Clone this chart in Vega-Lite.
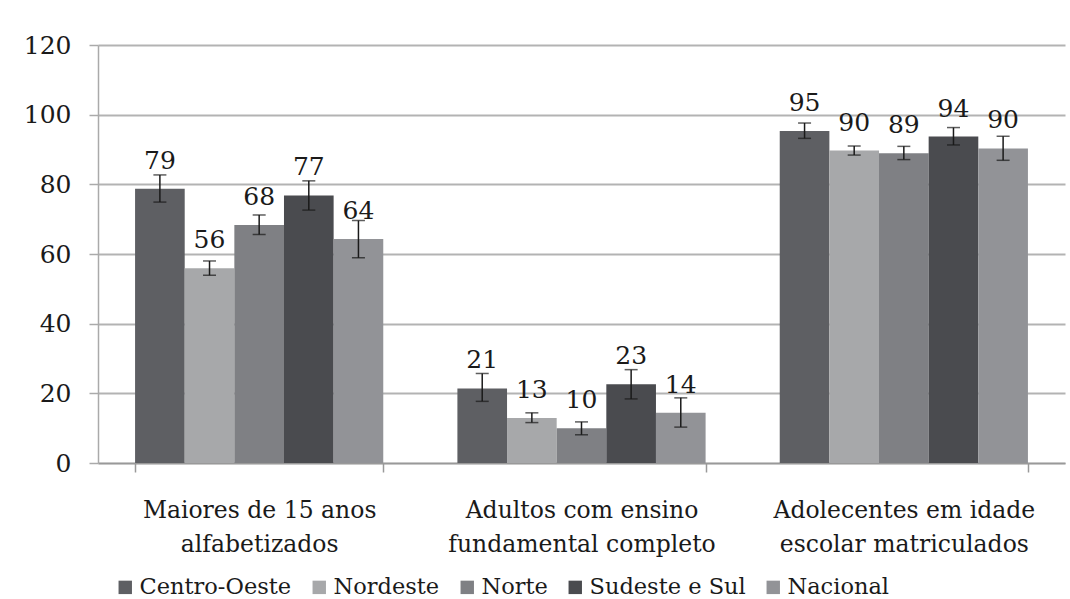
{
  "$schema": "https://vega.github.io/schema/vega-lite/v6.json",
  "width": 967,
  "height": 418,
  "autosize": {"type": "none"},
  "padding": {"left": 98, "top": 45, "right": 5, "bottom": 136},
  "background": "white",
  "config": {
    "view": {"stroke": null},
    "font": "DejaVu Serif",
    "axis": {"labelFont": "DejaVu Serif", "labelColor": "#1a1a1a"},
    "legend": {"labelFont": "DejaVu Serif"}
  },
  "data": {
    "values": [
      {"categoria": "Maiores de 15 anos alfabetizados", "regiao": "Centro-Oeste", "valor": 78.7, "inf": 74.9, "sup": 82.7},
      {"categoria": "Maiores de 15 anos alfabetizados", "regiao": "Nordeste", "valor": 55.9, "inf": 53.9, "sup": 58.0},
      {"categoria": "Maiores de 15 anos alfabetizados", "regiao": "Norte", "valor": 68.3, "inf": 65.6, "sup": 71.2},
      {"categoria": "Maiores de 15 anos alfabetizados", "regiao": "Sudeste e Sul", "valor": 76.8, "inf": 72.6, "sup": 81.0},
      {"categoria": "Maiores de 15 anos alfabetizados", "regiao": "Nacional", "valor": 64.3, "inf": 58.9, "sup": 69.6},
      {"categoria": "Adultos com ensino fundamental completo", "regiao": "Centro-Oeste", "valor": 21.4, "inf": 17.7, "sup": 25.7},
      {"categoria": "Adultos com ensino fundamental completo", "regiao": "Nordeste", "valor": 12.9, "inf": 11.6, "sup": 14.4},
      {"categoria": "Adultos com ensino fundamental completo", "regiao": "Norte", "valor": 10.0, "inf": 8.1, "sup": 11.8},
      {"categoria": "Adultos com ensino fundamental completo", "regiao": "Sudeste e Sul", "valor": 22.6, "inf": 18.4, "sup": 26.8},
      {"categoria": "Adultos com ensino fundamental completo", "regiao": "Nacional", "valor": 14.4, "inf": 10.3, "sup": 18.7},
      {"categoria": "Adolecentes em idade escolar matriculados", "regiao": "Centro-Oeste", "valor": 95.3, "inf": 93.2, "sup": 97.6},
      {"categoria": "Adolecentes em idade escolar matriculados", "regiao": "Nordeste", "valor": 89.7, "inf": 88.4, "sup": 91.0},
      {"categoria": "Adolecentes em idade escolar matriculados", "regiao": "Norte", "valor": 88.9, "inf": 87.1, "sup": 90.9},
      {"categoria": "Adolecentes em idade escolar matriculados", "regiao": "Sudeste e Sul", "valor": 93.7, "inf": 91.3, "sup": 96.3},
      {"categoria": "Adolecentes em idade escolar matriculados", "regiao": "Nacional", "valor": 90.3, "inf": 86.9, "sup": 93.8}
    ]
  },
  "encoding": {
    "x": {
      "field": "categoria",
      "type": "nominal",
      "sort": null,
      "scale": {"paddingInner": 0.23, "paddingOuter": 0.115},
      "axis": {
        "title": null,
        "labelAngle": 0,
        "labelFontSize": 23.5,
        "labelPadding": 26,
        "labelLineHeight": 34,
        "labelBaseline": "top",
        "labelLimit": 400,
        "tickBand": "extent",
        "tickSize": 9,
        "tickColor": "#999999",
        "tickWidth": 1.5,
        "domainColor": "#999999",
        "domainWidth": 1.5,
        "labelExpr": "datum.value == 'Maiores de 15 anos alfabetizados' ? ['Maiores de 15 anos', 'alfabetizados'] : datum.value == 'Adultos com ensino fundamental completo' ? ['Adultos com ensino', 'fundamental completo'] : datum.value == 'Adolecentes em idade escolar matriculados' ? ['Adolecentes em idade', 'escolar matriculados'] : ''"
      }
    },
    "xOffset": {"field": "regiao", "type": "nominal", "sort": ["Centro-Oeste", "Nordeste", "Norte", "Sudeste e Sul", "Nacional"], "scale": {"paddingInner": 0, "paddingOuter": 0}}
  },
  "layer": [
    {
      "mark": {"type": "bar"},
      "encoding": {
        "y": {
          "field": "valor",
          "type": "quantitative",
          "scale": {"domain": [0, 120], "nice": false},
          "axis": {
            "title": null,
            "values": [0, 20, 40, 60, 80, 100, 120],
            "labelFontSize": 25,
            "labelPadding": 18,
            "tickSize": 9,
            "tickColor": "#aaaaaa",
            "tickWidth": 1.5,
            "domainColor": "#aaaaaa",
            "domainWidth": 1.5,
            "gridColor": "#b3b3b3",
            "gridWidth": 2,
            "grid": true
          }
        },
        "color": {
          "field": "regiao",
          "type": "nominal",
          "sort": ["Centro-Oeste", "Nordeste", "Norte", "Sudeste e Sul", "Nacional"],
          "scale": {
            "domain": ["Centro-Oeste", "Nordeste", "Norte", "Sudeste e Sul", "Nacional"],
            "range": ["#5e5f63", "#a7a8aa", "#7f8084", "#4a4b4f", "#929397"]
          },
          "legend": {
            "title": null,
            "orient": "none",
            "direction": "horizontal",
            "legendX": 16,
            "legendY": 531,
            "symbolType": "square",
            "symbolSize": 180,
            "symbolStrokeWidth": 0,
            "labelFontSize": 22.5,
            "labelColor": "#1a1a1a",
            "labelOffset": 3,
            "columnPadding": 16,
            "labelLimit": 300
          }
        }
      }
    },
    {
      "mark": {"type": "rule", "color": "#1a1a1a", "strokeWidth": 1.5},
      "encoding": {
        "y": {"field": "inf", "type": "quantitative"},
        "y2": {"field": "sup"}
      }
    },
    {
      "mark": {"type": "tick", "color": "#1a1a1a", "size": 13, "thickness": 1.5},
      "encoding": {
        "y": {"field": "inf", "type": "quantitative"}
      }
    },
    {
      "mark": {"type": "tick", "color": "#1a1a1a", "size": 13, "thickness": 1.5},
      "encoding": {
        "y": {"field": "sup", "type": "quantitative"}
      }
    },
    {
      "mark": {"type": "text", "baseline": "bottom", "dy": -15, "fontSize": 25, "color": "#1a1a1a", "font": "DejaVu Serif"},
      "encoding": {
        "y": {"field": "valor", "type": "quantitative"},
        "text": {"field": "valor", "type": "quantitative", "format": ".0f"}
      }
    }
  ]
}
